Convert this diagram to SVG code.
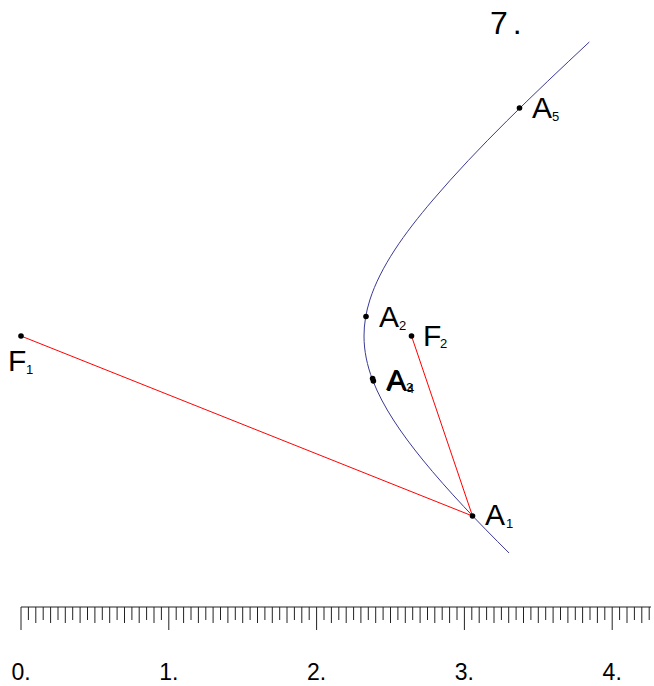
<svg xmlns="http://www.w3.org/2000/svg" width="654" height="686" viewBox="0 0 654 686">
<style>
text{font-family:"Liberation Sans",Arial,sans-serif;fill:#000}
.lbl{font-size:30px}
.sub{font-size:13px}
.num{font-size:23px;text-anchor:middle}
.pt{fill:#000}
.seg{stroke:#ff0000;stroke-width:1;fill:none}
.curve{stroke:#3a3a96;stroke-width:1;fill:none}
.tick{stroke:#222;stroke-width:1;fill:none}
</style>
<rect width="654" height="686" fill="#fff"/>
<text x="490" y="34" style="font-size:32px;letter-spacing:5px">7.</text>
<g id="connectors">
<path class="curve" d="M589.29,42 C532.93,94.67 477.74,147.33 432.87,200 C404.47,233.33 380.43,266.67 369.83,300 C366.01,312 364,324 364,336 C364,350.67 367.03,365.33 372.63,380 C382.81,406.67 401.15,433.33 422.87,460 C448.12,491 477.87,522 509.06,553"/>
<line class="seg" x1="21" y1="336" x2="472.5" y2="516"/>
<line class="seg" x1="411.5" y1="336" x2="472.5" y2="516"/>
</g>
<g id="F1"><circle class="pt" cx="21" cy="336" r="2.8"/><text class="lbl" x="8" y="371">F</text><text class="sub" x="26" y="374">1</text></g>
<g id="F2"><circle class="pt" cx="411.5" cy="336" r="2.8"/><text class="lbl" x="423" y="346">F</text><text class="sub" x="440" y="348">2</text></g>
<g id="A1"><circle class="pt" cx="472.5" cy="516" r="2.8"/><text class="lbl" x="485" y="525">A</text><text class="sub" x="506" y="528">1</text></g>
<g id="A2"><circle class="pt" cx="366" cy="316.5" r="2.8"/><text class="lbl" x="379" y="327">A</text><text class="sub" x="399" y="330">2</text></g>
<g id="A3"><circle class="pt" cx="372.6" cy="378.5" r="2.8"/><text class="lbl" x="386" y="390">A</text><text class="sub" x="406" y="392">3</text></g>
<g id="A4"><circle class="pt" cx="373.4" cy="381" r="2.8"/><text class="lbl" x="387" y="391">A</text><text class="sub" x="407" y="393">4</text></g>
<g id="A5"><circle class="pt" cx="519.5" cy="108" r="2.8"/><text class="lbl" x="532" y="118">A</text><text class="sub" x="552" y="121">5</text></g>
<g id="ruler">
<line class="tick" x1="21" y1="607" x2="651" y2="607"/>
<path class="tick" d="M21,607V630 M168.8,607V630 M316.6,607V630 M464.4,607V630 M612.2,607V630
M35.8,607V623 M50.6,607V623 M65.3,607V623 M80.1,607V623 M94.9,607V623 M109.7,607V623 M124.5,607V623 M139.2,607V623 M154,607V623
M183.6,607V623 M198.4,607V623 M213.1,607V623 M227.9,607V623 M242.7,607V623 M257.5,607V623 M272.3,607V623 M287,607V623 M301.8,607V623
M331.4,607V623 M346.2,607V623 M360.9,607V623 M375.7,607V623 M390.5,607V623 M405.3,607V623 M420.1,607V623 M434.8,607V623 M449.6,607V623
M479.2,607V623 M494,607V623 M508.7,607V623 M523.5,607V623 M538.3,607V623 M553.1,607V623 M567.9,607V623 M582.6,607V623 M597.4,607V623
M627,607V623 M641.8,607V623
M28.4,607V620 M43.2,607V620 M58,607V620 M72.7,607V620 M87.5,607V620 M102.3,607V620 M117.1,607V620 M131.9,607V620 M146.6,607V620 M161.4,607V620
M176.2,607V620 M191,607V620 M205.8,607V620 M220.5,607V620 M235.3,607V620 M250.1,607V620 M264.9,607V620 M279.7,607V620 M294.4,607V620 M309.2,607V620
M324,607V620 M338.8,607V620 M353.6,607V620 M368.3,607V620 M383.1,607V620 M397.9,607V620 M412.7,607V620 M427.5,607V620 M442.2,607V620 M457,607V620
M471.8,607V620 M486.6,607V620 M501.4,607V620 M516.1,607V620 M530.9,607V620 M545.7,607V620 M560.5,607V620 M575.3,607V620 M590,607V620 M604.8,607V620
M619.6,607V620 M634.4,607V620 M649.2,607V620"/>
<text class="num" x="21" y="680">0.</text>
<text class="num" x="168.8" y="680">1.</text>
<text class="num" x="316.6" y="680">2.</text>
<text class="num" x="464.4" y="680">3.</text>
<text class="num" x="612.2" y="680">4.</text>
</g>
</svg>
